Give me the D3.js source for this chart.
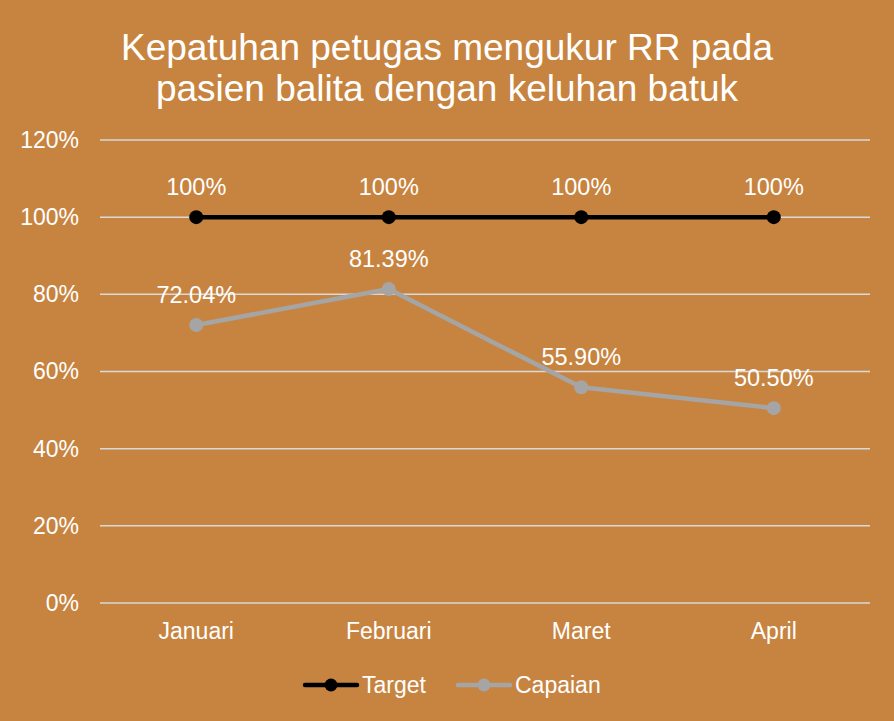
<!DOCTYPE html>
<html>
<head>
<meta charset="utf-8">
<script src="https://cdn.jsdelivr.net/npm/d3@7"></script>
<style>
  html, body { margin: 0; padding: 0; background: #C78440; }
  svg { display: block; font-family: "Liberation Sans", Arial, sans-serif; }
</style>
</head>
<body>
<svg id="chart" width="894" height="721"></svg>
<script>
const months = ["Januari", "Februari", "Maret", "April"];
const target = [100, 100, 100, 100];
const capaian = [72.04, 81.39, 55.90, 50.50];
const targetLabels = ["100%", "100%", "100%", "100%"];
const capaianLabels = ["72.04%", "81.39%", "55.90%", "50.50%"];
const yTicks = [0, 20, 40, 60, 80, 100, 120];
const titleLines = ["Kepatuhan petugas mengukur RR pada", "pasien balita dengan keluhan batuk"];

const W = 894, H = 721;
const margin = { left: 100, right: 24, top: 140, bottom: 118 };
const svg = d3.select("#chart");
const FONT = "Liberation Sans, Arial, sans-serif";

svg.append("rect").attr("width", W).attr("height", H).attr("fill", "#C78440");

const x = d3.scaleBand().domain(months).range([margin.left, W - margin.right]);
const y = d3.scaleLinear().domain([0, 120]).range([H - margin.bottom, margin.top]);
const cx = m => x(m) + x.bandwidth() / 2;

// Title
svg.append("g").selectAll("text").data(titleLines).join("text")
  .attr("x", W / 2).attr("y", (d, i) => 60 + i * 41)
  .attr("text-anchor", "middle").attr("fill", "#fff")
  .attr("font-size", 37).text(d => d);

// Gridlines
svg.append("g").selectAll("line").data(yTicks).join("line")
  .attr("x1", margin.left).attr("x2", W - margin.right)
  .attr("y1", d => y(d)).attr("y2", d => y(d))
  .attr("stroke", "#D9D9D9").attr("stroke-width", 1.5);

// Y axis labels
const yAxis = d3.axisLeft(y).tickValues(yTicks).tickFormat(d => d + "%").tickSize(0).tickPadding(21);
svg.append("g").attr("transform", `translate(${margin.left},0)`).call(yAxis)
  .call(g => g.select(".domain").remove())
  .call(g => g.selectAll("text").attr("fill", "#fff").attr("font-size", 23)
    .attr("font-family", FONT));

// X axis labels
const xAxis = d3.axisBottom(x).tickSize(0).tickPadding(20);
svg.append("g").attr("transform", `translate(0,${y(0)})`).call(xAxis)
  .call(g => g.select(".domain").remove())
  .call(g => g.selectAll("text").attr("fill", "#fff").attr("font-size", 23)
    .attr("font-family", FONT));

const line = d3.line().x((d, i) => cx(months[i])).y(d => y(d));

function drawSeries(values, labels, color) {
  const g = svg.append("g");
  g.append("path").datum(values).attr("d", line)
    .attr("fill", "none").attr("stroke", color).attr("stroke-width", 4.5)
    .attr("stroke-linejoin", "round").attr("stroke-linecap", "round");
  g.selectAll("circle").data(values).join("circle")
    .attr("cx", (d, i) => cx(months[i])).attr("cy", d => y(d)).attr("r", 7)
    .attr("fill", color);
  g.selectAll("text").data(values).join("text")
    .attr("x", (d, i) => cx(months[i])).attr("y", d => y(d) - 22)
    .attr("text-anchor", "middle").attr("fill", "#fff").attr("font-size", 23.5)
    .text((d, i) => labels[i]);
}
drawSeries(capaian, capaianLabels, "#A5A5A5");
drawSeries(target, targetLabels, "#000000");

// Legend
const legend = [
  { name: "Target", color: "#000000", x: 305 },
  { name: "Capaian", color: "#A5A5A5", x: 458 }
];
const lg = svg.append("g").selectAll("g").data(legend).join("g")
  .attr("transform", d => `translate(${d.x},685)`);
lg.append("line").attr("x1", 0).attr("x2", 52).attr("stroke", d => d.color)
  .attr("stroke-width", 4.5).attr("stroke-linecap", "round");
lg.append("circle").attr("cx", 26).attr("r", 6.5).attr("fill", d => d.color);
lg.append("text").attr("x", 57).attr("y", 8).attr("fill", "#fff").attr("font-size", 23)
  .text(d => d.name);
</script>
</body>
</html>
